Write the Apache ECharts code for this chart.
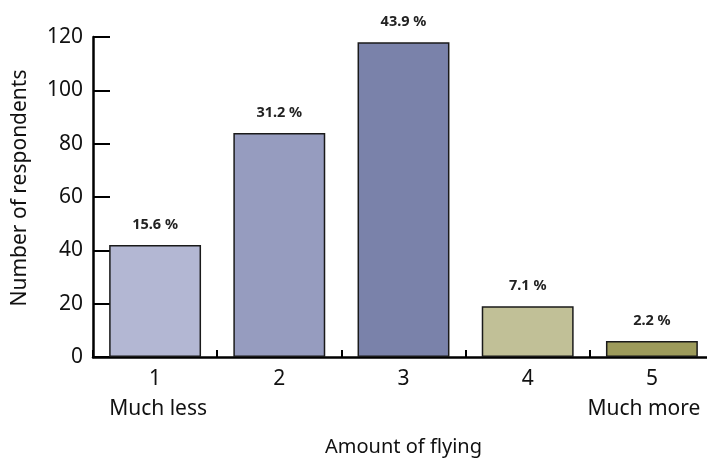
<!DOCTYPE html>
<html><head><meta charset="utf-8">
<script src="https://cdn.jsdelivr.net/npm/echarts@6/dist/echarts.min.js"></script>
<style>html,body{margin:0;padding:0;background:#fff}#c{width:707px;height:464px}</style>
</head><body><div id="c"></div>
<script>
const categories = ['1', '2', '3', '4', '5'];
const subLabels = ['Much less', '', '', '', 'Much more'];
const counts = [42, 84, 118, 19, 6];
const percentLabels = ['15.6 %', '31.2 %', '43.9 %', '7.1 %', '2.2 %'];
const barColors = ['#b3b7d3', '#969cbf', '#7a82aa', '#c1c097', '#9d9b5b'];
const yTicks = [0, 20, 40, 60, 80, 100, 120];

const FONT = 'Noto Sans';
const chart = echarts.init(document.getElementById('c'), null, {renderer: 'canvas'});
chart.setOption({
  animation: false,
  backgroundColor: '#fff',
  textStyle: {fontFamily: FONT},
  grid: {left: 93, top: 37, width: 621, height: 320, containLabel: false, outerBoundsMode: 'none'},
  xAxis: {
    type: 'category',
    data: categories,
    name: 'Amount of flying',
    nameLocation: 'middle',
    nameGap: 80,
    nameTextStyle: {fontSize: 20, color: '#111', fontFamily: FONT},
    axisLine: {lineStyle: {color: '#000', width: 2.5}},
    axisTick: {show: true, inside: true, length: 7, lineStyle: {color: '#000', width: 2}},
    axisLabel: {
      margin: 7,
      color: '#111',
      formatter: (v, i) => subLabels[i] ? '{n|' + v + '}\n{' + (i === 4 ? 'r' : 'd') + '|' + subLabels[i] + '}' : '{n|' + v + '}',
      rich: {
        n: {fontSize: 21, lineHeight: 30, color: '#111', fontFamily: FONT},
        d: {fontSize: 21, lineHeight: 30, color: '#111', fontFamily: FONT, padding: [0, 0, 0, 6]},
        r: {fontSize: 21, lineHeight: 30, color: '#111', fontFamily: FONT, padding: [0, 16, 0, 0]}
      }
    }
  },
  yAxis: {
    type: 'value',
    min: 0, max: 120, interval: 20,
    name: 'Number of respondents',
    nameLocation: 'middle',
    nameGap: 62,
    nameTextStyle: {fontSize: 21, color: '#111', fontFamily: FONT, padding: [0, 0, 0, 18]},
    axisLine: {show: true, lineStyle: {color: '#000', width: 2.5}},
    axisTick: {show: true, inside: true, length: 17, lineStyle: {color: '#000', width: 2}},
    splitLine: {show: false},
    axisLabel: {
      fontSize: 21, color: '#111', margin: 10, fontFamily: FONT,
      formatter: v => yTicks.includes(v) ? String(v) : ''
    }
  },
  series: [{
    type: 'bar',
    barWidth: '74%',
    data: counts.map((v, i) => ({
      value: v,
      itemStyle: {color: barColors[i], borderColor: '#1a1a1a', borderWidth: 1.5}
    })),
    label: {
      show: true,
      position: 'top',
      distance: 13,
      fontSize: 14.5,
      fontWeight: 'bold',
      color: '#222',
      fontFamily: FONT,
      formatter: p => percentLabels[p.dataIndex]
    }
  }]
});
</script></body></html>
